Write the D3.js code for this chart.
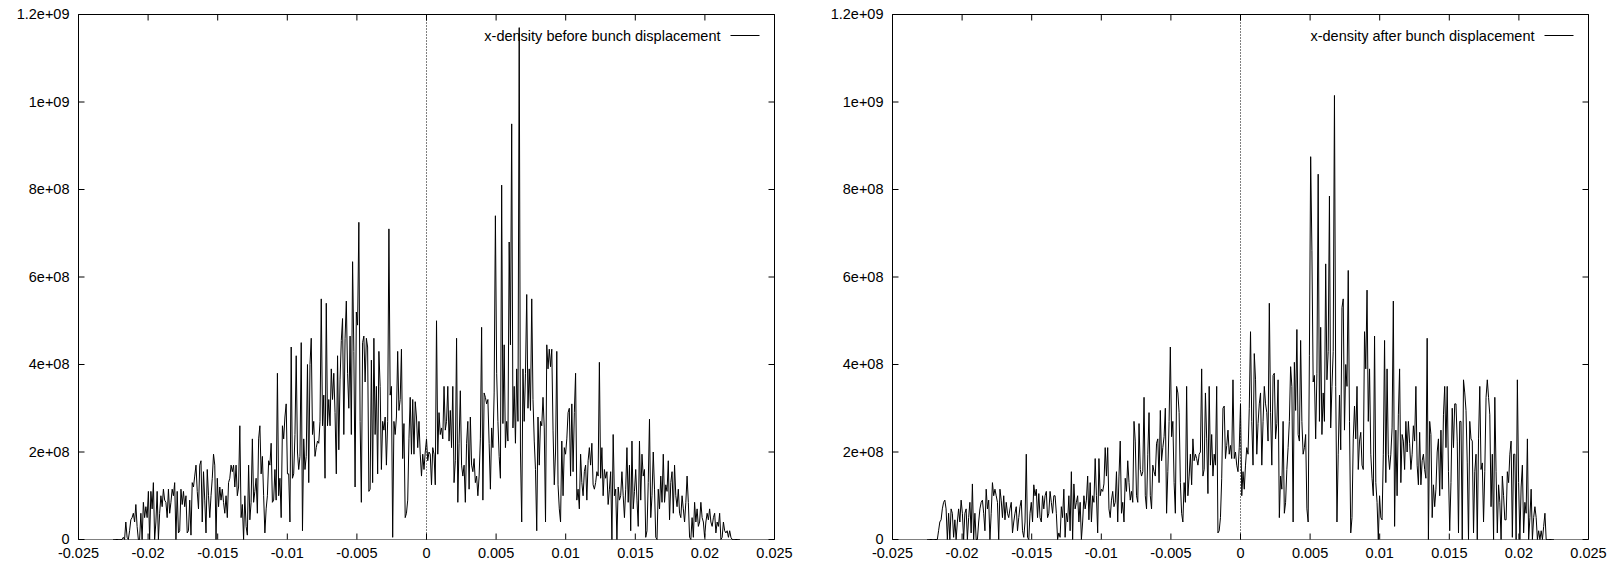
<!DOCTYPE html>
<html>
<head>
<meta charset="utf-8">
<script src="https://cdn.jsdelivr.net/npm/d3@7"></script>
<style>
  body { margin: 0; background: #fff; }
  svg { display: block; }
  text { font-family: "Liberation Sans", Arial, sans-serif; }
</style>
</head>
<body>
<svg id="chart" width="1621" height="567"></svg>
<script>
// Histogram bins of the horizontal particle density (bin centres start at binStart)
const binStart = -0.0225;
const binWidth = 0.00009;

// Density per bin, in units of 1e8
const densityBeforeE8 = [
  0,0,0,0,0,0,0,0,
  0.05,0,0.4,0.05,0,0.2,0.45,0.5,0.6,0.4,0.8,0.3,0,0,0.6,0,0.85,0.5,0.75,0.5,1.1,0,1.1,0.7,1.3,0,0.4,1.1,0,0.6,
  1.0,0.75,1.15,0.9,0.85,0.5,1.15,0.6,0.85,1.15,1.0,1.3,0,1.1,0.15,0.2,1.15,0.8,1.1,0.75,1.0,0.15,0.2,0.9,
  0.1,1.3,1.2,1.45,1.7,1.1,0.7,1.7,1.8,0.4,1.55,0.9,0.15,1.6,1.0,0.5,1.0,1.4,1.95,1.7,0,1.4,0.75,1.2,
  0.9,1.15,0.85,0.6,1.0,0.5,1.3,1.4,1.7,1.55,1.7,1.2,
  1.7,1.0,1.2,2.6,0.5,0.8,0,1.0,0.3,0.1,1.7,0.45,0.85,2.3,0.85,1.1,
  1.4,0.6,2.3,2.6,1.5,1.9,1.0,0.15,0.7,1.0,1.8,1.7,2.2,0.85,0.9,1.6,
  0.9,3.8,1.0,1.4,0.5,2.6,2.3,2.8,3.1,1.5,1.5,0.4,4.4,1.4,1.5,2.4,
  4.2,2.0,1.6,1.9,4.5,0.2,2.3,1.6,1.9,4.0,1.3,4.0,4.6,2.4,2.7,1.9,
  2.1,2.25,2.2,2.7,5.5,2.6,3.3,1.4,5.4,2.6,3.2,2.6,3.9,3.2,3.8,2.9,
  1.5,4.2,2.05,3.65,4.55,5.05,2.4,4.6,5.45,3.8,3.0,
  4.65,2.4,6.35,4.3,1.2,5.2,4.9,7.25,2.7,0.85,4.5,4.65,3.6,
  4.6,4.4,1.1,1.15,4.1,1.3,4.6,2.4,3.5,1.5,
  4.3,3.5,1.6,2.7,2.5,2.8,1.7,2.7,7.1,3.3,
  3.5,0.05,2.7,2.4,2.8,4.3,2.95,3.2,4.35,1.85,
  2.65,0.5,0.6,0.9,2.3,3.25,1.95,3.2,1.95,3.15,
  2.8,2.1,2.7,1.95,1.45,1.95,1.6,2.0,2.3,1.8,
  2.0,1.95,1.25,2.1,1.95,1.25,5.0,1.95,2.9,
  2.4,2.55,2.3,3.5,2.5,
  2.7,3.5,2.25,2.95,2.1,3.5,1.3,1.8,4.6,0.85,2.2,3.4,1.7,
  1.45,1.7,0.85,2.2,2.7,1.15,2.8,
  1.7,1.55,1.85,1.3,
  1.45,1.0,1.45,2.3,4.85,0.9,3.35,3.25,3.1,3.2,
  2.2,1.15,2.55,2.1,3.35,7.4,
  3.8,2.7,1.9,
  1.4,8.1,2.65,4.45,2.1,2.7,2.25,6.8,4.45,9.5,2.55,3.5,2.2,
  3.9,2.7,11.7,2.0,0.4,3.9,2.7,3.8,5.6,3.0,3.9,2.95,5.5,3.2,2.25,1.6,0.2,2.8,1.7,2.7,2.6,3.25,2.55,0.4,
  4.45,3.9,4.35,3.95,4.35,2.5,1.25,2.0,
  4.3,1.25,0.7,0.4,2.25,1.0,2.1,1.95,2.3,2.9,3.0,1.45,3.1,1.55,2.9,3.8,0.9,1.15,0.7,1.95,1.3,
  1.0,1.55,1.7,0.9,1.8,2.1,1.7,2.2,1.25,1.15,1.3,1.55,1.45,4.05,1.4,2.1,1.0,1.6,1.4,1.55,0.8,
  1.15,1.55,0,2.4,1.0,1.15,0,1.2,
  0.9,1.0,1.55,1.0,0.5,
  1.15,2.1,0.85,1.7,0.2,2.25,0.7,1.1,1.6,0.9,0.3,2.25,0.9,1.95,1.45,
  1.6,0.05,0.2,1.3,2.75,0.5,1.0,2.0,1.15,0.05,0,1.15,0.7,1.45,0.85,1.95,0.85,1.25,1.1,1.8,0.45,1.3,1.55,0.6,1.7,
  1.0,0.75,1.15,0.6,0.5,1.0,0.7,0.4,0.85,
  1.45,0.85,0.05,0,0.5,0.05,0.85,0.4,0.7,
  0.3,0.4,0.85,0.5,0.4,0.05,0.4,0.6,0.45,
  0.7,0.4,0.3,0.5,0.6,0.15,0.4,0.3,0.6,0,0.05,0.4,0.2,0.15,0.2,0.05,0.2,0.05,0,
  0,0,0,0,0,0
];

const densityAfterE8 = [
  0,0,0,0,0,0,0,0,
  0,0.2,0.4,0.45,0.7,0.85,0.9,0.7,0,0.6,
  0,0.7,0.6,0.05,0.45,0,0.4,0.7,0.4,0.9,
  0.6,0,0.6,0.7,0,0.5,0.85,0.15,1.27,0,
  0.6,0,0,0.4,0.7,0.85,0.9,0.6,0.2,1.15,
  0.7,0.9,0,0.6,1.3,1.0,1.15,1.0,0.85,0,
  1.15,0.9,0.5,1.0,0.45,0.85,0.6,0.5,0.7,0.85,
  0.15,0.4,0.6,0.75,0.2,0.5,0.75,0.9,0.2,0.05,
  0.4,1.95,0.05,0,0.6,0.85,0.4,1.25,1.0,1.15,
  0.5,1.05,0.5,0.4,1.0,0.7,1.0,1.1,0.5,0.6,
  1.1,0.85,0.6,1.0,
  1.0,0.6,0,0.15,0.05,0.75,0.5,1.15,0.05,0.6,
  0.4,1.0,0.2,1.55,0,1.27,0.7,0.85,1.0,0.4,
  0.85,0,0.4,1.0,0.7,0.9,1.45,0.45,1.3,0.4,
  1.0,0.85,1.85,1.0,0.15,1.85,1.0,1.15,1.1,1.27,
  2.1,1.45,2.1,0.7,0.5,0.9,1.1,0.75,0.85,1.55,
  0.4,1.45,2.25,0.6,0.85,0.4,1.4,1.1,1.8,1.3,
  0.9,1.1,0.85,2.7,2.25,1.0,0.85,2.65,1.6,1.45,
  1.55,3.25,1.0,0.7,1.95,2.9,1.0,0.7,1.7,1.55,
  1.45,2.2,2.3,1.3,2.95,1.8,2.1,2.35,3.0,0.6,
  1.55,2.7,4.4,2.35,2.7,1.3,0.6,3.5,3.35,2.9,
  1.3,0.6,0.4,1.3,
  0.85,3.5,1.0,1.45,1.95,1.25,2.3,1.8,1.95,1.85,
  1.7,1.95,2.0,3.9,1.45,1.6,3.35,2.3,1.05,3.5,
  1.7,2.4,1.45,1.95,1.7,3.5,0.15,0.2,0.5,1.4,
  3.0,3.05,1.85,2.15,2.5,1.95,2.15,1.85,3.65,1.85,
  2.0,1.7,1.55,2.1,3.1,1.0,1.55,1.15,1.7,2.1,
  1.95,3.0,4.75,2.7,1.7,4.25,3.65,1.95,2.65,3.1,
  3.35,1.7,2.7,3.5,3.1,2.9,2.25,5.4,2.9,1.7,
  3.75,3.8,2.3,2.65,3.65,0.5,1.45,1.15,2.7,0.6,
  0.85,1.6,2.1,2.7,3.95,3.5,0.4,4.05,2.95,4.8,
  2.4,2.25,4.55,2.7,1.95,2.1,2.4,0.7,0.4,4.2,
  8.75,6.6,3.6,3.75,
  2.3,3.8,8.35,2.7,4.85,2.4,3.35,2.7,6.3,3.65,
  4.3,7.85,2.55,3.5,4.3,10.15,3.5,0.4,1.95,3.3,
  2.05,5.3,5.5,2.5,4.0,3.5,6.15,2.7,0.15,0.5,
  2.3,3.05,2.3,3.5,1.6,2.25,2.45,1.7,1.6,4.75,
  3.9,5.7,2.7,3.9,1.95,1.4,1.0,4.65,1.3,0.85,
  0,1.0,0.5,0.45,1.95,4.55,1.3,3.9,1.95,1.6,
  1.95,2.55,5.45,0.3,2.5,1.0,2.85,3.9,1.3,2.4,
  2.25,1.6,2.7,2.0,2.7,2.2,1.6,1.95,2.6,2.25,
  3.5,1.7,1.25,2.45,1.25,1.8,1.95,1.6,1.4,4.6,
  0,2.7,2.4,0.5,1.25,0.75,1.15,2.0,2.3,1.0,
  2.5,1.15,2.85,3.5,
  2.1,3.5,1.55,0.2,1.3,3.0,2.1,3.1,3.1,2.25,
  0.15,2.7,2.7,0,3.65,3.35,2.95,1.75,0,2.7,
  2.3,2.25,0.15,1.55,1.95,0,2.3,3.5,1.6,1.75,
  0.4,1.55,3.25,3.65,3.25,2.85,0.75,1.95,0,3.25,
  1.55,0.15,1.25,0.85,0,1.45,1.0,0.45,0.45,1.55,
  1.3,1.95,2.25,0.05,1.95,1.95,0,3.65,1.3,0,
  1.2,1.7,0.15,0.85,0.6,2.3,0,0.5,1.15,0,
  0.5,0.75,0.5,0,0.2,0,0.2,0,0.3,0.6,
  0,
  0,0,0,0,0,0
];

const seriesLabels = [
  "x-density before bunch displacement",
  "x-density after bunch displacement"
];

const xTickValues = [-0.025, -0.02, -0.015, -0.01, -0.005, 0, 0.005, 0.01, 0.015, 0.02, 0.025];
const xTickLabels = ["-0.025", "-0.02", "-0.015", "-0.01", "-0.005", "0", "0.005", "0.01", "0.015", "0.02", "0.025"];
const yTickValues = [0, 2e8, 4e8, 6e8, 8e8, 1e9, 1.2e9];
const yTickLabels = ["0", "2e+08", "4e+08", "6e+08", "8e+08", "1e+09", "1.2e+09"];

const xDomain = [-0.025, 0.025];
const yDomain = [0, 1.2e9];

// Two side-by-side frames
const panels = [
  { left: 78.5, right: 774.5, values: densityBeforeE8, label: seriesLabels[0] },
  { left: 892.5, right: 1588.5, values: densityAfterE8, label: seriesLabels[1] }
];
const frameTop = 14.5, frameBottom = 539.5;
const tick = 6;
const font = '"Liberation Sans", Arial, sans-serif';
const fontSize = 14.5;

const svg = d3.select("#chart");

panels.forEach(p => {
  const x = d3.scaleLinear().domain(xDomain).range([p.left, p.right]);
  const y = d3.scaleLinear().domain(yDomain).range([frameBottom, frameTop]);
  const g = svg.append("g");

  // x = 0 zero axis
  g.append("line")
    .attr("x1", x(0)).attr("x2", x(0))
    .attr("y1", y(0)).attr("y2", y(yDomain[1]))
    .attr("stroke", "#000").attr("stroke-width", 1)
    .attr("stroke-dasharray", "1,2");

  // density curve
  const points = p.values.map((v, i) => [binStart + i * binWidth, v * 1e8]);
  g.append("path")
    .datum(points)
    .attr("fill", "none")
    .attr("stroke", "#000")
    .attr("stroke-width", 1)
    .attr("stroke-linejoin", "miter")
    .attr("d", d3.line().x(d => x(d[0])).y(d => y(d[1])));

  // frame: left, top, right solid; bottom coincides with the dotted y = 0 axis
  g.append("path")
    .attr("fill", "none").attr("stroke", "#000").attr("stroke-width", 1)
    .attr("d", `M${x(xDomain[0])},${y(0)}V${y(yDomain[1])}H${x(xDomain[1])}V${y(0)}`);
  g.append("line")
    .attr("x1", x(xDomain[0])).attr("x2", x(xDomain[1]))
    .attr("y1", y(0)).attr("y2", y(0))
    .attr("stroke", "#000").attr("stroke-width", 1)
    .attr("stroke-dasharray", "1,1");

  const styleAxis = sel => {
    sel.select(".domain").remove();
    sel.attr("font-family", font).attr("font-size", fontSize);
    sel.selectAll("text").attr("fill", "#000");
    sel.selectAll(".tick line").attr("stroke", "#000");
  };

  g.append("g")
    .attr("transform", `translate(0,${y(0)})`)
    .call(d3.axisBottom(x).tickValues(xTickValues)
      .tickFormat((d, i) => xTickLabels[i])
      .tickSizeInner(-tick).tickSizeOuter(0).tickPadding(8).offset(0))
    .call(styleAxis);

  g.append("g")
    .attr("transform", `translate(0,${y(yDomain[1])})`)
    .call(d3.axisTop(x).tickValues(xTickValues).tickFormat(() => "")
      .tickSizeInner(-tick).tickSizeOuter(0).offset(0))
    .call(styleAxis);

  g.append("g")
    .attr("transform", `translate(${x(xDomain[0])},0)`)
    .call(d3.axisLeft(y).tickValues(yTickValues)
      .tickFormat((d, i) => yTickLabels[i])
      .tickSizeInner(-tick).tickSizeOuter(0).tickPadding(9).offset(0))
    .call(styleAxis);

  g.append("g")
    .attr("transform", `translate(${x(xDomain[1])},0)`)
    .call(d3.axisRight(y).tickValues(yTickValues).tickFormat(() => "")
      .tickSizeInner(-tick).tickSizeOuter(0).offset(0))
    .call(styleAxis);

  // key
  const keyY = 35.5;
  g.append("text")
    .attr("x", p.right - 54).attr("y", keyY + 5)
    .attr("text-anchor", "end")
    .attr("font-family", font).attr("font-size", fontSize)
    .attr("fill", "#000")
    .text(p.label);
  g.append("line")
    .attr("x1", p.right - 44).attr("x2", p.right - 15)
    .attr("y1", keyY).attr("y2", keyY)
    .attr("stroke", "#000").attr("stroke-width", 1);
});
</script>
</body>
</html>
